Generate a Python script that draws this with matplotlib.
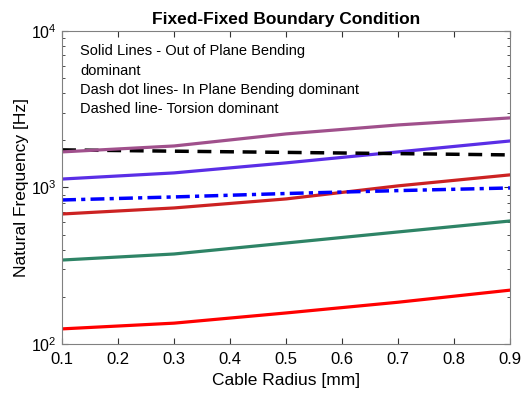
import numpy as np
import matplotlib.pyplot as plt

plt.rcParams['font.family'] = ['Liberation Sans', 'DejaVu Sans']

radius = [0.1, 0.3, 0.5, 0.7, 0.9]

# out of plane bending modes (solid)
oop_1 = [125, 136, 158, 185, 221]
oop_2 = [344, 376, 442, 520, 611]
oop_3 = [677, 740, 845, 1024, 1204]
oop_4 = [1132, 1239, 1436, 1687, 1982]
oop_5 = [1687, 1841, 2198, 2508, 2782]
# in plane bending (dash dot)
ip_1 = [832, 870, 915, 955, 993]
# torsion (dashed)
tor_1 = [1738, 1705, 1675, 1645, 1614]

fig = plt.figure(figsize=(5.26, 4.01), dpi=100)
ax = fig.add_axes([0.118, 0.142, 0.852, 0.781])

ax.plot(radius, oop_1, color='#ff0000', lw=2.3)
ax.plot(radius, oop_2, color='#2e8466', lw=2.3)
ax.plot(radius, oop_3, color='#cc2222', lw=2.3)
ax.plot(radius, ip_1, color='#0000ff', lw=2.5, ls=(0, (4, 1.5, 1.2, 1.5)))
ax.plot(radius, oop_4, color='#5a2ee6', lw=2.3)
ax.plot(radius, tor_1, color='black', lw=2.5, ls=(0, (4, 2.5)))
ax.plot(radius, oop_5, color='#a0508c', lw=2.3)

ax.set_yscale('log')
ax.set_xlim(0.1, 0.9)
ax.set_ylim(1e2, 1e4)
ax.set_xticks(np.arange(0.1, 0.91, 0.1))
ax.set_xticklabels(['0.1', '0.2', '0.3', '0.4', '0.5', '0.6', '0.7', '0.8', '0.9'])
ax.tick_params(which='both', direction='in', top=True, right=True, labelsize=12, color='#333333')
ax.tick_params(which='major', length=4, pad=6)
ax.tick_params(which='minor', length=2.5)
ax.tick_params(axis='y', which='major', labelsize=11.5, pad=4)
for s in ax.spines.values():
    s.set_color('#808080')

ax.set_xlabel('Cable Radius [mm]', fontsize=12.5, labelpad=4)
ax.set_ylabel('Natural Frequency [Hz]', fontsize=12.5, labelpad=1)
ax.set_title('Fixed-Fixed Boundary Condition', fontsize=12.5, fontweight='bold', pad=5)

notes = ['Solid Lines - Out of Plane Bending', 'dominant',
         'Dash dot lines- In Plane Bending dominant', 'Dashed line- Torsion dominant']
for i, t in enumerate(notes):
    ax.text(0.04, 0.935 - i * 0.062, t, transform=ax.transAxes, fontsize=10.5, va='center')

fig.savefig('out.png', dpi=100)
